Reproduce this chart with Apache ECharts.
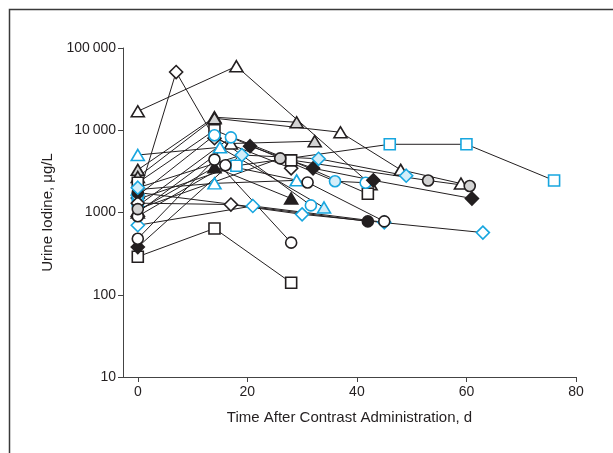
<!DOCTYPE html>
<html>
<head>
<meta charset="utf-8">
<script src="https://cdn.jsdelivr.net/npm/echarts@6/dist/echarts.min.js"></script>
<style>
html,body{margin:0;padding:0;background:#fff;}
#chart{width:613px;height:453px;}
</style>
</head>
<body>
<div id="chart"></div>
<script>
// Days after contrast administration for each subject
const days = [
  [0, 18, 42.5],
  [0, 14, 29],
  [0, 14, 37, 48, 59],
  [0, 7, 14, 28],
  [0, 14, 28, 42],
  [0, 14, 28],
  [0, 17, 32.3],
  [0, 18, 46, 60, 76],
  [0, 15, 34],
  [0, 14, 29],
  [0, 14, 31.6],
  [0, 17, 36, 41.6],
  [0, 21, 45],
  [0, 17, 30, 63],
  [0, 14, 28],
  [0, 20.5, 32, 43, 61],
  [0, 42],
  [0, 14, 28],
  [0, 16, 31, 45],
  [0, 26, 53, 60.6],
  [0, 19, 33, 49]
];
// Urine iodine (µg/L) for each subject
const values = [
  [17000, 60000, 2200],
  [3300, 14400, 12500],
  [2700, 14000, 9450, 3300, 2250],
  [1500, 51000, 8000, 3450],
  [2300, 10000, 4300, 1690],
  [290, 640, 140],
  [1000, 6900, 7350],
  [1450, 3700, 6750, 6750, 2450],
  [5000, 6200, 1150],
  [1900, 2260, 2460],
  [1600, 8700, 1220],
  [1200, 8200, 2400, 2300],
  [700, 1200, 760],
  [1300, 1250, 950, 570],
  [1050, 3550, 1480],
  [380, 6400, 3450, 2460, 1480],
  [1750, 780],
  [480, 4400, 430],
  [900, 3750, 2320, 780],
  [1100, 4550, 2450, 2100],
  [2000, 5000, 4500, 2800]
];
// Marker category of each measurement (shape + fill group)
const marks = [
  ['oT', 'oT', 'gT'],
  ['gT', 'gT', 'gT'],
  ['gT', 'gT', 'oT', 'oT', 'oT'],
  ['oD', 'oD', 'gD', 'oD'],
  ['oS', 'oS', 'oS', 'oS'],
  ['oS', 'oS', 'oS'],
  ['oT', 'oT', 'gT'],
  ['cS', 'cS', 'cS', 'cS', 'cS'],
  ['cT', 'cT', 'lT'],
  ['cT', 'cT', 'cT'],
  ['cC', 'cC', 'cC'],
  ['cC', 'cC', 'lC', 'cC'],
  ['cD', 'cD', 'cD'],
  ['oD', 'oD', 'cD', 'cD'],
  ['bT', 'bT', 'bT'],
  ['bD', 'bD', 'bD', 'bD', 'bD'],
  ['bC', 'bC'],
  ['oC', 'oC', 'oC'],
  ['oC', 'oC', 'oC', 'oC'],
  ['gC', 'gC', 'gC', 'gC'],
  ['lD', 'lD', 'lD', 'lD']
];
const xTicks = [0, 20, 40, 60, 80];
const yTickLabels = {10: '10', 100: '100', 1000: '1000', 10000: '10\u2009000', 100000: '100\u2009000'};

const CYAN = '#17a6df';
const LCYAN = '#d4eef9';
const BLACK = '#231f20';
const GRAY = '#d3d3d3';
const shapeMap = {T: 'triangle', S: 'rect', D: 'diamond', C: 'circle'};
const sizeMap = {T: [13, 11], S: [11, 11], D: [13, 13], C: [11, 11]};
function markStyle(code) {
  const g = code[0], s = code[1];
  let fill = '#fff', stroke = BLACK;
  if (g === 'g') { fill = GRAY; }
  if (g === 'b') { fill = BLACK; }
  if (g === 'c') { fill = '#fff'; stroke = CYAN; }
  if (g === 'l') { fill = LCYAN; stroke = CYAN; }
  return {
    symbol: shapeMap[s],
    symbolSize: sizeMap[s],
    itemStyle: {color: fill, borderColor: stroke, borderWidth: 1.6, opacity: 1}
  };
}

const series = days.map((ds, i) => ({
  type: 'line',
  silent: true,
  z: 2,
  lineStyle: {color: BLACK, width: 1},
  data: ds.map((d, j) => Object.assign({value: [d, values[i][j]]}, markStyle(marks[i][j])))
}));

const chart = echarts.init(document.getElementById('chart'), null, {renderer: 'canvas'});
const FONT = '"Liberation Sans Narrow", "Liberation Sans", Arial, sans-serif';
chart.setOption({
  animation: false,
  backgroundColor: '#fff',
  graphic: [{
    type: 'rect',
    shape: {x: 9.5, y: 9.5, width: 800, height: 800},
    style: {fill: 'none', stroke: '#3a3a3a', lineWidth: 1.5},
    silent: true
  }],
  grid: {left: 123, right: 37, top: 48, bottom: 76, containLabel: false},
  xAxis: {
    type: 'value',
    min: -2.7,
    max: 80,
    name: 'Time After Contrast Administration, d',
    nameLocation: 'middle',
    nameGap: 33,
    nameTextStyle: {fontFamily: FONT, fontSize: 15, color: BLACK},
    splitLine: {show: false},
    axisLine: {show: true, onZero: false, lineStyle: {color: '#444', width: 1}},
    axisTick: {show: true, length: 5, customValues: xTicks, lineStyle: {color: '#444'}},
    axisLabel: {customValues: xTicks, fontFamily: FONT, fontSize: 14, color: BLACK, margin: 8}
  },
  yAxis: {
    type: 'log',
    logBase: 10,
    min: 10,
    max: 100000,
    name: 'Urine Iodine, \u03bcg/L',
    nameLocation: 'middle',
    nameGap: 67,
    nameTextStyle: {fontFamily: FONT, fontSize: 15, color: BLACK},
    splitLine: {show: false},
    minorTick: {show: false},
    axisLine: {show: true, onZero: false, lineStyle: {color: '#444', width: 1}},
    axisTick: {show: true, length: 5, lineStyle: {color: '#444'}},
    axisLabel: {
      fontFamily: FONT, fontSize: 14, color: BLACK, margin: 7,
      formatter: v => yTickLabels[Math.round(v)] || ''
    }
  },
  series: series
});
</script>
</body>
</html>
